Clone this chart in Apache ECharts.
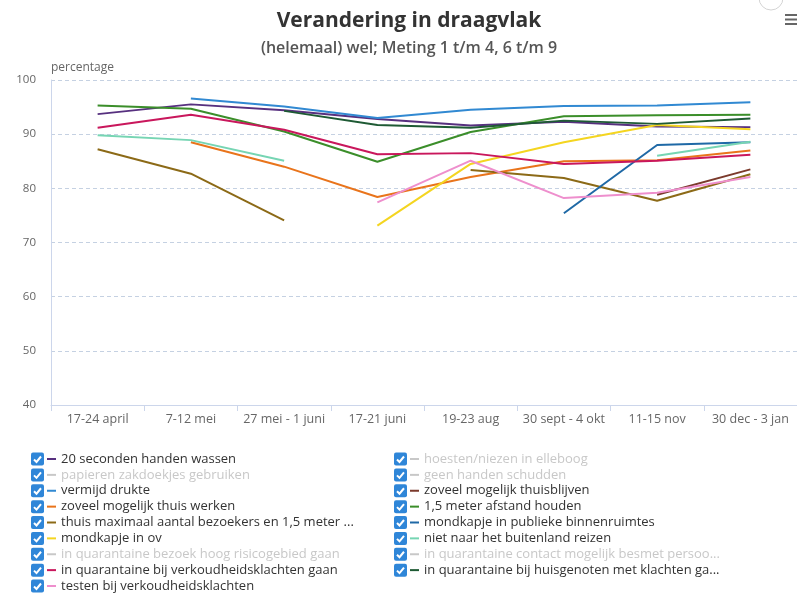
<!DOCTYPE html>
<html>
<head>
<meta charset="utf-8">
<title>Verandering in draagvlak</title>
<script src="https://cdn.jsdelivr.net/npm/echarts@6/dist/echarts.min.js"></script>
<style>
  html, body { margin: 0; padding: 0; background: #fff; }
  #chart { width: 797px; height: 597px; }
</style>
</head>
<body>
<div id="chart"></div>
<script>
// metingen (x-as)
var periodes = ['17-24 april', '7-12 mei', '27 mei - 1 juni', '17-21 juni', '19-23 aug', '30 sept - 4 okt', '11-15 nov', '30 dec - 3 jan'];

// percentage (helemaal) wel, per maatregel; null = niet gemeten
var handenWassen      = [93.7, 95.5, 94.4, 92.8, 91.6, 92.3, 91.4, 91.3];
var vermijdDrukte     = [null, 96.6, 95.1, 93.0, 94.5, 95.2, 95.3, 95.9];
var thuisblijven      = [null, null, null, null, null, null, 78.8, 83.5];
var thuisWerken       = [null, 88.5, 84.0, 78.4, 82.1, 85.0, 85.2, 87.0];
var afstandHouden     = [95.3, 94.7, 90.5, 84.9, 90.4, 93.3, 93.5, 93.6];
var maxBezoekers      = [87.2, 82.7, 74.1, null, 83.4, 81.9, 77.7, 82.6];
var mondkapjeBinnen   = [null, null, null, null, null, 75.4, 88.0, 88.5];
var mondkapjeOv       = [null, null, null, 73.1, 84.5, 88.5, 91.7, 90.9];
var buitenland        = [89.8, 88.9, 85.1, null, null, null, 86.0, 88.6];
var quarantaineKlacht = [91.2, 93.6, 90.8, 86.3, 86.5, 84.5, 85.1, 86.2];
var quarantaineHuis   = [null, null, 94.3, 91.7, 91.2, 92.5, 91.9, 92.9];
var testen            = [null, null, null, 77.4, 85.1, 78.2, 79.2, 82.1];

// y-as
var yMin = 40, yMax = 100, yStap = 10;

// legenda: linker en rechter kolom
var legendaLinks = [
    '20 seconden handen wassen',
    'papieren zakdoekjes gebruiken',
    'vermijd drukte',
    'zoveel mogelijk thuis werken',
    'thuis maximaal aantal bezoekers en 1,5 meter ...',
    'mondkapje in ov',
    'in quarantaine bezoek hoog risicogebied gaan',
    'in quarantaine bij verkoudheidsklachten gaan',
    'testen bij verkoudheidsklachten'
];
var legendaRechts = [
    'hoesten/niezen in elleboog',
    'geen handen schudden',
    'zoveel mogelijk thuisblijven',
    '1,5 meter afstand houden',
    'mondkapje in publieke binnenruimtes',
    'niet naar het buitenland reizen',
    'in quarantaine contact mogelijk besmet persoo...',
    'in quarantaine bij huisgenoten met klachten ga...'
];
// uitgezet in de legenda (grijs)
var verborgen = ['papieren zakdoekjes gebruiken', 'hoesten/niezen in elleboog', 'geen handen schudden',
    'in quarantaine bezoek hoog risicogebied gaan', 'in quarantaine contact mogelijk besmet persoo...'];

var reeksen = [
    {name: '20 seconden handen wassen', data: handenWassen, kleur: '#57307f'},
    {name: 'hoesten/niezen in elleboog', data: [], kleur: '#999999'},
    {name: 'papieren zakdoekjes gebruiken', data: [], kleur: '#999999'},
    {name: 'geen handen schudden', data: [], kleur: '#999999'},
    {name: 'vermijd drukte', data: vermijdDrukte, kleur: '#3189d2'},
    {name: 'zoveel mogelijk thuisblijven', data: thuisblijven, kleur: '#7b3a2c'},
    {name: 'zoveel mogelijk thuis werken', data: thuisWerken, kleur: '#e9741b'},
    {name: '1,5 meter afstand houden', data: afstandHouden, kleur: '#3b8e2a'},
    {name: 'thuis maximaal aantal bezoekers en 1,5 meter ...', data: maxBezoekers, kleur: '#8c6a17'},
    {name: 'mondkapje in publieke binnenruimtes', data: mondkapjeBinnen, kleur: '#1f69a6'},
    {name: 'mondkapje in ov', data: mondkapjeOv, kleur: '#f4d520'},
    {name: 'niet naar het buitenland reizen', data: buitenland, kleur: '#76d5b3'},
    {name: 'in quarantaine bezoek hoog risicogebied gaan', data: [], kleur: '#999999'},
    {name: 'in quarantaine contact mogelijk besmet persoo...', data: [], kleur: '#999999'},
    {name: 'in quarantaine bij verkoudheidsklachten gaan', data: quarantaineKlacht, kleur: '#c9175c'},
    {name: 'in quarantaine bij huisgenoten met klachten ga...', data: quarantaineHuis, kleur: '#1e5a34'},
    {name: 'testen bij verkoudheidsklachten', data: testen, kleur: '#ee8fcd'}
];

var eChart = echarts.init(document.getElementById('chart'));

var series = [];
reeksen.forEach(function (r) {
    series.push({
        name: r.name,
        type: 'line',
        data: r.data,
        symbol: 'none',
        smooth: false,
        connectNulls: false,
        itemStyle: {color: r.kleur},
        lineStyle: {color: r.kleur, width: 2},
        emphasis: {disabled: true}
    });
});

var selected = {};
verborgen.forEach(function (n) { selected[n] = false; });

// checkboxjes voor de legenda
var rijHoogte = 15.875, eersteRij = 459;
var graphics = [];
function checkbox(x, y) {
    graphics.push({
        type: 'rect', left: x, top: y - 6.5,
        shape: {width: 13, height: 13, r: 2},
        style: {fill: '#2f86d8'}, silent: true
    });
    graphics.push({
        type: 'polyline', silent: true,
        shape: {points: [[x + 3, y + 0.5], [x + 5.5, y + 3], [x + 10, y - 2.5]]},
        style: {stroke: '#fff', lineWidth: 2, fill: null}
    });
}
for (var i = 0; i < legendaLinks.length; i++) checkbox(31, eersteRij + i * rijHoogte);
for (var j = 0; j < legendaRechts.length; j++) checkbox(394, eersteRij + j * rijHoogte);
// menu-icoon rechtsboven
[14, 18.5, 23].forEach(function (y) {
    graphics.push({type: 'rect', left: 785, top: y, shape: {width: 12, height: 2}, style: {fill: '#666'}, silent: true});
});
graphics.push({type: 'circle', silent: true, shape: {cx: 771, cy: -2, r: 12}, style: {fill: null, stroke: '#d4d4d4', lineWidth: 1}});

var legendaStijl = {
    orient: 'vertical',
    top: 452,
    height: 160,
    padding: 0,
    icon: 'rect',
    itemWidth: 9,
    itemHeight: 2,
    itemGap: 1.875,
    selectedMode: false,
    inactiveColor: '#c8c8c8',
    selected: selected,
    textStyle: {fontFamily: 'Open Sans', fontSize: 13, color: '#333', lineHeight: 14}
};

var option = {
    animation: false,
    backgroundColor: '#fff',
    title: {
        text: 'Verandering in draagvlak',
        subtext: '(helemaal) wel; Meting 1 t/m 4, 6 t/m 9',
        left: 409,
        textAlign: 'center',
        top: 11,
        padding: 0,
        itemGap: 8,
        textStyle: {fontFamily: 'Open Sans', fontSize: 21, fontWeight: 'bold', color: '#333'},
        subtextStyle: {fontFamily: 'Open Sans', fontSize: 16, fontWeight: 600, color: '#555'}
    },
    legend: [
        Object.assign({}, legendaStijl, {left: 47, data: legendaLinks}),
        Object.assign({}, legendaStijl, {left: 410, data: legendaRechts})
    ],
    grid: {left: 51, top: 80, width: 754, height: 325, containLabel: false},
    xAxis: {
        type: 'category',
        data: periodes,
        boundaryGap: true,
        axisLine: {lineStyle: {color: '#ccd6eb', width: 1}},
        axisTick: {show: true, interval: 0, length: 6, lineStyle: {color: '#ccd6eb'}},
        axisLabel: {interval: 0, margin: 8, fontFamily: 'Open Sans', fontSize: 12.5, color: '#666'}
    },
    yAxis: {
        type: 'value',
        min: yMin,
        max: yMax,
        interval: yStap,
        name: 'percentage',
        nameLocation: 'end',
        nameGap: 6,
        nameTextStyle: {align: 'left', fontFamily: 'Open Sans', fontSize: 12, color: '#666'},
        axisLine: {show: true, lineStyle: {color: '#ccd6eb', width: 1}},
        axisTick: {show: false},
        axisLabel: {margin: 15, fontFamily: 'Open Sans', fontSize: 11.5, color: '#666'},
        splitLine: {show: true, lineStyle: {color: '#c5d1e2', type: [4, 3], width: 1}}
    },
    graphic: graphics,
    series: series
};

eChart.setOption(option, true);
</script>
</body>
</html>
